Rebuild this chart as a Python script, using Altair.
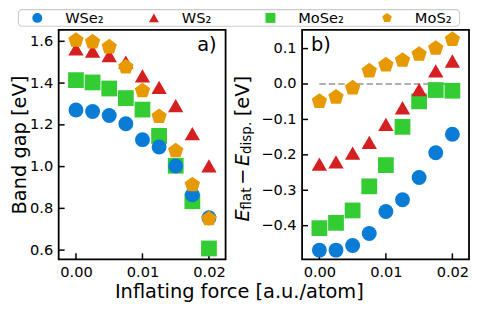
import altair as alt
import pandas as pd

# ---------------- data ----------------
force = [0.0, 0.0025, 0.005, 0.0075, 0.01, 0.0125, 0.015, 0.0175, 0.02]
materials = ["WSe₂", "WS₂", "MoSe₂", "MoS₂"]
colors = ["#0a7cd6", "#d42020", "#33cc33", "#e69a00"]

gap_WSe2 = [1.271, 1.264, 1.245, 1.205, 1.129, 1.094, 1.003, 0.865, 0.755]
gap_WS2 = [1.564, 1.553, 1.532, 1.500, 1.434, 1.379, 1.292, 1.158, 1.003]
gap_MoSe2 = [1.414, 1.403, 1.374, 1.328, 1.273, 1.147, 1.004, 0.834, 0.608]
gap_MoS2 = [1.605, 1.597, 1.573, 1.477, 1.363, 1.240, 1.076, 0.913, 0.750]

de_WSe2 = [-0.469, -0.469, -0.456, -0.422, -0.360, -0.327, -0.264, -0.194, -0.142]
de_WS2 = [-0.226, -0.220, -0.195, -0.165, -0.114, -0.067, -0.016, 0.037, 0.065]
de_MoSe2 = [-0.407, -0.392, -0.357, -0.289, -0.229, -0.121, -0.049, -0.017, -0.019]
de_MoS2 = [-0.049, -0.037, -0.011, 0.037, 0.054, 0.067, 0.084, 0.101, 0.126]

x_ticks = [0.0, 0.01, 0.02]
ya_ticks = [0.6, 0.8, 1.0, 1.2, 1.4, 1.6]
yb_ticks = [-0.4, -0.3, -0.2, -0.1, 0.0, 0.1]
zero_line = pd.DataFrame({"x": [0.0], "x2": [0.02], "y": [0.0]})

# draw order (back to front)
draw_order = ["MoSe₂", "WSe₂", "WS₂", "MoS₂"]
gap = {"WSe₂": gap_WSe2, "WS₂": gap_WS2, "MoSe₂": gap_MoSe2, "MoS₂": gap_MoS2}
de = {"WSe₂": de_WSe2, "WS₂": de_WS2, "MoSe₂": de_MoSe2, "MoS₂": de_MoS2}

rows_a, rows_b = [], []
for m in draw_order:
    for f, v in zip(force, gap[m]):
        rows_a.append({"material": m, "force": f, "value": v})
    for f, v in zip(force, de[m]):
        rows_b.append({"material": m, "force": f, "value": v})
df_a = pd.DataFrame(rows_a)
df_b = pd.DataFrame(rows_b)
df_leg = pd.DataFrame({"material": materials})
one = pd.DataFrame({"k": [0]})

FONT = "DejaVu Sans"
W, H = 168, 231
pentagon = "M0,-1L0.951,-0.309L0.588,0.809L-0.588,0.809L-0.951,-0.309Z"
shapes = ["circle", "triangle-up", "square", pentagon]
sizes = [225, 265, 210, 280]

color_scale = alt.Scale(domain=materials, range=colors)
shape_scale = alt.Scale(domain=materials, range=shapes)

xscale = alt.Scale(domain=[-0.0026, 0.0225], nice=False, zero=False)
xaxis = alt.Axis(values=x_ticks, format=".2f", title=None, ticks=False, tickSize=0,
                 labelPadding=5, domain=False, grid=False)


def panel(df, ydomain, yticks, yfmt, ytitle):
    yscale = alt.Scale(domain=ydomain, nice=False, zero=False)
    pts = alt.Chart(df).mark_point(filled=True, opacity=1, strokeWidth=0).encode(
        x=alt.X("force:Q", scale=xscale, axis=xaxis),
        y=alt.Y("value:Q", scale=yscale,
                axis=alt.Axis(values=yticks, format=yfmt, title=ytitle, ticks=False,
                              tickSize=0, labelPadding=6, domain=False, grid=False,
                              titleFontSize=19.5, titleFont=FONT, titleFontWeight="normal",
                              titlePadding=0)),
        color=alt.Color("material:N", scale=color_scale, legend=None),
        shape=alt.Shape("material:N", scale=shape_scale, legend=None),
        size=alt.Size("material:N", scale=alt.Scale(domain=materials, range=sizes),
                      legend=None),
    )
    xt = alt.Chart(pd.DataFrame({"t": x_ticks})).mark_rule(color="black", strokeWidth=1.5).encode(
        x=alt.X("t:Q", scale=xscale), y=alt.value(H), y2=alt.value(H - 6))
    yt = alt.Chart(pd.DataFrame({"t": yticks})).mark_rule(color="black", strokeWidth=1.5).encode(
        y=alt.Y("t:Q", scale=yscale), x=alt.value(0), x2=alt.value(6))
    return pts, xt, yt


# ---- panel a ----
pa, xta, yta = panel(df_a, [0.556, 1.655], ya_ticks, ".1f", "Band gap [eV]")
la = alt.Chart(one).mark_text(text="a)", fontSize=19.5, font=FONT, align="right",
                              baseline="alphabetic", color="black").encode(
    x=alt.value(159), y=alt.value(21.5))
chart_a = alt.layer(xta, yta, pa, la).properties(width=W, height=H)

# ---- panel b ----
ydom_b = [-0.495, 0.153]
pb, xtb, ytb = panel(df_b, ydom_b, yb_ticks, ".1f", None)
zl = alt.Chart(zero_line).mark_rule(color="#b0b0b0", strokeWidth=2, strokeDash=[6.5, 3]).encode(
    x=alt.X("x:Q", scale=xscale), x2="x2:Q",
    y=alt.Y("y:Q", scale=alt.Scale(domain=ydom_b, nice=False, zero=False)))
lb = alt.Chart(one).mark_text(text="b)", fontSize=19.5, font=FONT, align="left",
                              baseline="alphabetic", color="black").encode(
    x=alt.value(9), y=alt.value(21.5))

# rotated y-title pieces for panel b:  E_flat − E_disp. [eV]
title_parts = [
    ("E", 19.5, "italic", -53, 193),
    ("flat", 13.6, "normal", -51, 181),
    ("−", 19.5, "normal", -53, 156),
    ("E", 19.5, "italic", -53, 137),
    ("disp.", 13.6, "normal", -51, 125),
    ("[eV]", 19.5, "normal", -53, 87),
]
tlayers = []
for txt, fs, style, xx, yy in title_parts:
    tlayers.append(
        alt.Chart(one).mark_text(text=txt, fontSize=fs, fontStyle=style, font=FONT, angle=270,
                                 align="left", baseline="alphabetic", color="black").encode(
            x=alt.value(xx), y=alt.value(yy)))

chart_b = alt.layer(zl, xtb, ytb, pb, lb, *tlayers).properties(width=W, height=H)

# ---- legend (top strip; x=0 is aligned with the left edge of panel a) ----
LW, LH = 403.5, 18
leg_x = alt.X("material:N", scale=alt.Scale(domain=materials, range=[-21.5, 330.5], padding=0),
              axis=None)
leg_box = alt.Chart(one).mark_rect(fill="white", stroke="#cccccc", strokeWidth=1.2,
                                   cornerRadius=4).encode(
    x=alt.value(-40.5), x2=alt.value(LW), y=alt.value(0.6), y2=alt.value(LH - 0.6))
leg_pts = alt.Chart(df_leg).mark_point(filled=True, opacity=1, strokeWidth=0, size=100).encode(
    x=leg_x, y=alt.value(LH / 2),
    color=alt.Color("material:N", scale=color_scale, legend=None),
    shape=alt.Shape("material:N", scale=shape_scale, legend=None),
)
leg_txt = alt.Chart(df_leg).mark_text(align="left", baseline="middle", dx=28, dy=1, fontSize=14.7,
                                      font=FONT, color="black").encode(
    x=leg_x, y=alt.value(LH / 2), text="material:N")
legend_chart = alt.layer(leg_box, leg_pts, leg_txt).properties(
    width=LW, height=LH, view=alt.ViewBackground(strokeWidth=0))

panels = alt.hconcat(chart_a, chart_b, spacing=6)
chart = alt.vconcat(legend_chart, panels, spacing=2).properties(
    padding=0,
    title=alt.TitleParams("Inflating force [a.u./atom]", orient="bottom", anchor="middle",
                          fontSize=19.5, font=FONT, fontWeight="normal", offset=3.5, color="black"),
).configure_view(stroke="black", strokeWidth=1.8).configure_axis(
    labelFont=FONT, labelFontSize=14.7, labelColor="black", titleColor="black"
)

chart.save("out.html", embed_options={"renderer": "svg", "actions": False})
